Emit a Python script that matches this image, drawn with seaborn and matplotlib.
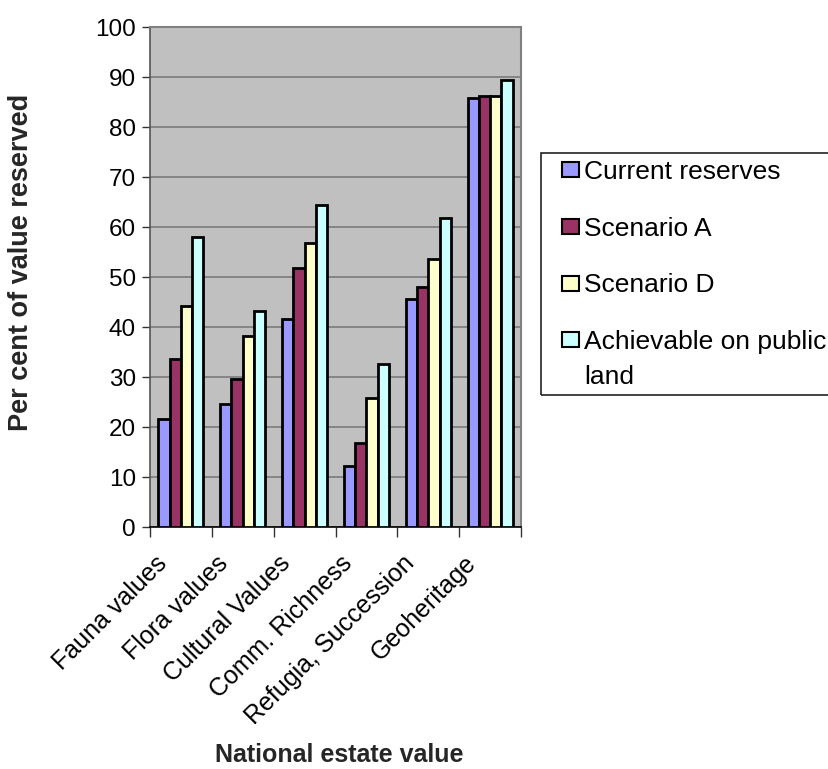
import matplotlib
matplotlib.use("Agg")
import matplotlib.pyplot as plt
import matplotlib.transforms as mtransforms
import seaborn as sns
import pandas as pd
from matplotlib.patches import Rectangle

# Categories and series
categories = ["Fauna values", "Flora values", "Cultural Values",
              "Comm. Richness", "Refugia, Succession", "Geoheritage"]
series = ["Current reserves", "Scenario A", "Scenario D",
          "Achievable on public land"]
current_reserves = [21.7, 24.7, 41.6, 12.2, 45.7, 85.9]
scenario_a = [33.7, 29.6, 51.9, 16.8, 48.1, 86.2]
scenario_d = [44.3, 38.2, 56.8, 25.8, 53.7, 86.3]
achievable = [58.0, 43.2, 64.4, 32.6, 61.9, 89.5]
y_ticks = [0, 10, 20, 30, 40, 50, 60, 70, 80, 90, 100]

colors = ["#9999FF", "#993366", "#FFFFCC", "#CCFFFF"]

df = pd.DataFrame({
    "category": categories * 4,
    "series": sum([[s] * len(categories) for s in series], []),
    "value": current_reserves + scenario_a + scenario_d + achievable,
})

sns.set_theme(style="white")
plt.rcParams["font.family"] = ["Liberation Sans", "DejaVu Sans"]

W, H = 829, 769
fig = plt.figure(figsize=(W / 100, H / 100), dpi=100)
ax = fig.add_axes([150 / W, 1 - 527 / H, (521 - 150) / W, (527 - 27) / H])

sns.barplot(data=df, x="category", y="value", hue="series",
            order=categories, hue_order=series, palette=colors,
            width=0.728, edgecolor="black", linewidth=2.0,
            saturation=1, errorbar=None, legend=False, ax=ax, zorder=3)

ax.set_facecolor("#C0C0C0")
ax.set_xlim(-0.5, len(categories) - 0.5)
ax.set_ylim(0, 100)
ax.set_yticks(y_ticks)
ax.yaxis.grid(True, color="#808080", linewidth=1.3, zorder=0)
ax.set_axisbelow(True)

for side in ["top", "right"]:
    ax.spines[side].set_color("#808080")
    ax.spines[side].set_linewidth(1.5)
ax.spines["left"].set_color("#555555")
ax.spines["left"].set_linewidth(1.2)
ax.spines["bottom"].set_color("black")
ax.spines["bottom"].set_linewidth(1.2)

ax.tick_params(axis="y", which="major", left=True, length=6, width=1.0,
               color="#333333", labelsize=17.5, pad=4, labelcolor="black")
# x ticks sit on category boundaries, labels at category centres
ax.set_xticks([i + 0.5 for i in range(-1, len(categories))], minor=True)
ax.tick_params(axis="x", which="minor", bottom=True, length=7, width=1.0,
               color="#333333")
ax.tick_params(axis="x", which="major", bottom=False, length=0,
               labelsize=18, pad=27, labelcolor="black")
ax.set_xticks(range(len(categories)))
ax.set_xticklabels(categories, rotation=45, ha="right", va="baseline",
                   rotation_mode="anchor")
shift = mtransforms.ScaledTranslation(-13 / 100, 0, fig.dpi_scale_trans)
for lbl in ax.get_xticklabels():
    lbl.set_transform(lbl.get_transform() + shift)

ax.set_xlabel("")
ax.set_ylabel("")
fig.text(339 / W, 1 - 755 / H, "National estate value", ha="center",
         va="center", fontsize=18, fontweight="bold")
fig.text(21 / W, 1 - 262 / H, "Per cent of value reserved", ha="center",
         va="center", rotation=90, fontsize=19.5, fontweight="bold")

# Legend with a frame box on the right
fig.patches.append(Rectangle((541 / W, 1 - 395 / H), (840 - 541) / W,
                             (395 - 153) / H, transform=fig.transFigure,
                             fill=False, edgecolor="#222222", linewidth=1.2))
handles = [Rectangle((0, 0), 1, 1, facecolor=c, edgecolor="black",
                     linewidth=1.5) for c in colors]
labels = ["Current reserves", "Scenario A", "Scenario D",
          "Achievable on public"]
leg = fig.legend(handles, labels, loc="upper left",
                 bbox_to_anchor=(562 / W, 1 - 160 / H), frameon=False,
                 fontsize=19, handlelength=0.65, handleheight=0.5,
                 handletextpad=0.2, labelspacing=1.24, borderaxespad=0,
                 borderpad=0)
for t in leg.get_texts():
    t.set_color("black")

fig.canvas.draw()
bb = leg.get_texts()[3].get_window_extent()
fig.text(bb.x0 / W, (bb.y0 - 35) / H, "land", fontsize=19, ha="left",
         va="bottom", color="black")

fig.savefig("out.png", dpi=100)
